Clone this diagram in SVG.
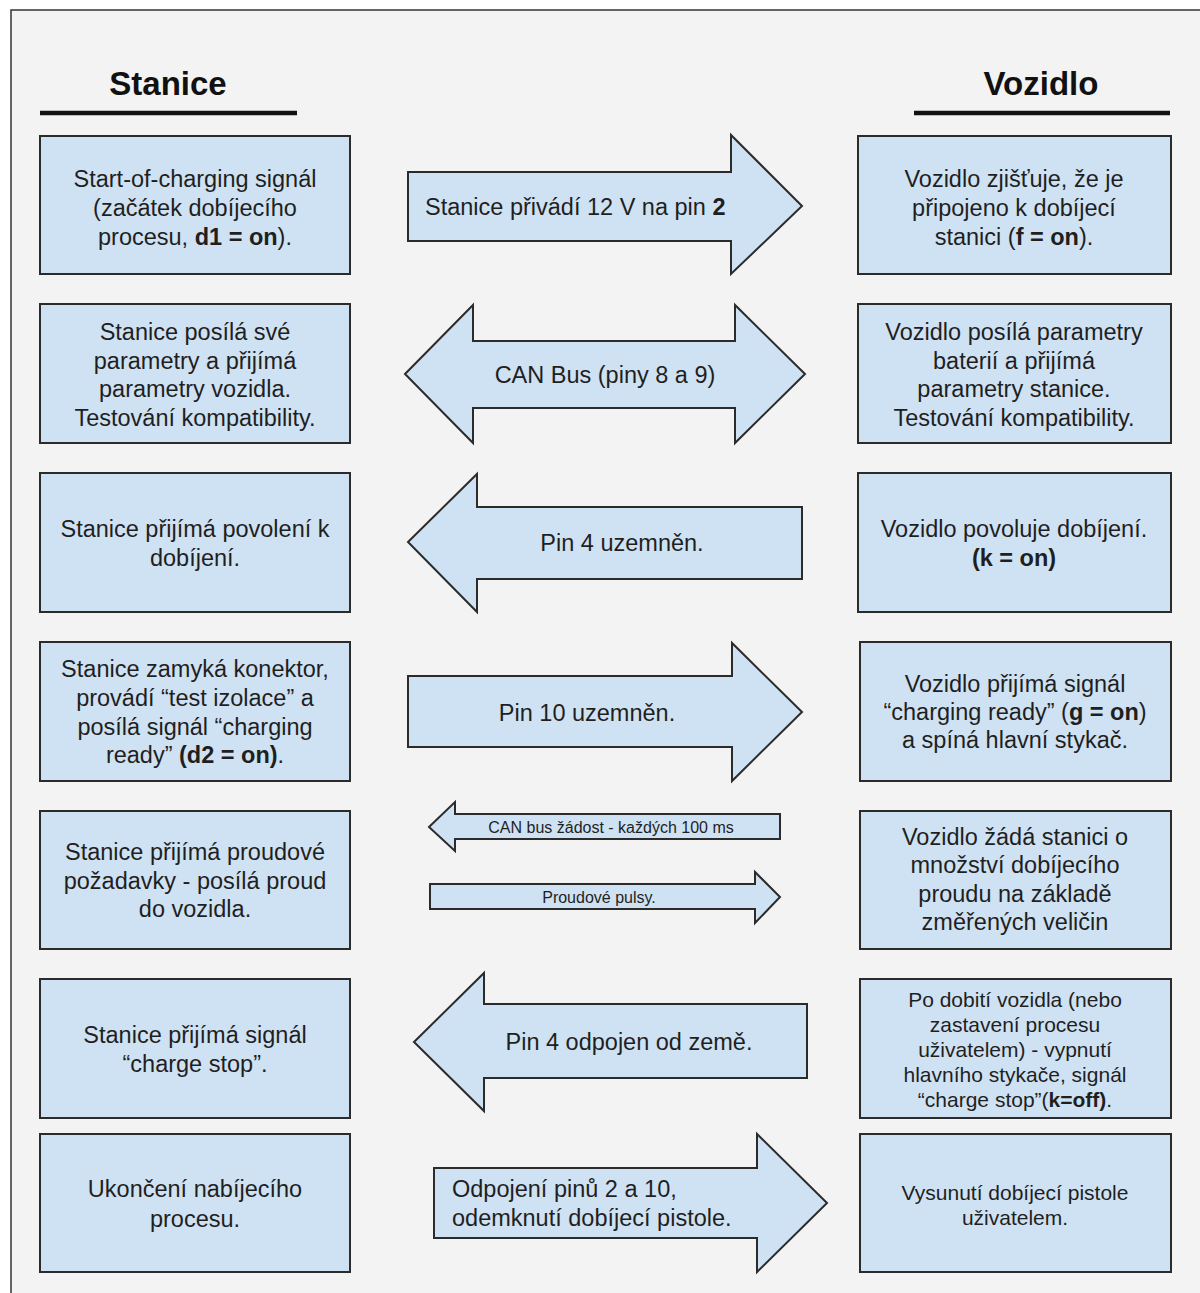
<svg xmlns="http://www.w3.org/2000/svg" width="1200" height="1293" viewBox="0 0 1200 1293">
<style>
.bg{fill:#f3f3f3;stroke:#333;stroke-width:1.5}
.box{fill:#cfe2f3;stroke:#2b2b2b;stroke-width:2}
.arr{fill:#cfe2f3;stroke:#2b2b2b;stroke-width:2;stroke-linejoin:miter}
.t{font-family:"Liberation Sans",Arial,sans-serif;font-size:23.5px;fill:#1f1f1f;text-anchor:middle}
.ts{font-family:"Liberation Sans",Arial,sans-serif;font-size:21px;fill:#1f1f1f;text-anchor:middle}
.tl{font-family:"Liberation Sans",Arial,sans-serif;font-size:23.5px;fill:#1f1f1f;text-anchor:start}
.tsm{font-family:"Liberation Sans",Arial,sans-serif;font-size:16px;fill:#1f1f1f;text-anchor:middle}
.h{font-family:"Liberation Sans",Arial,sans-serif;font-size:33px;font-weight:bold;fill:#111;text-anchor:middle}
.b{font-weight:bold}
.ul{stroke:#111;stroke-width:4.5}
</style>
<rect x="0" y="0" width="1200" height="1293" fill="#ffffff"/>
<rect class="bg" x="11" y="10" width="1200" height="1300"/>

<g id="header-stanice">
<text class="h" x="168" y="95">Stanice</text>
<line class="ul" x1="40" y1="113" x2="297" y2="113"/>
</g>
<g id="header-vozidlo">
<text class="h" x="1041" y="95">Vozidlo</text>
<line class="ul" x1="914" y1="113" x2="1170" y2="113"/>
</g>

<g id="s1">
<rect class="box" x="40" y="136" width="310" height="138"/>
<text class="t" x="195" y="187">Start-of-charging signál</text>
<text class="t" x="195" y="216">(začátek dobíjecího</text>
<text class="t" x="195" y="245">procesu, <tspan class="b">d1 = on</tspan>).</text>
</g>
<g id="v1">
<rect class="box" x="858" y="136" width="313" height="138"/>
<text class="t" x="1014" y="187">Vozidlo zjišťuje, že je</text>
<text class="t" x="1014" y="216">připojeno k dobíjecí</text>
<text class="t" x="1014" y="245">stanici (<tspan class="b">f = on</tspan>).</text>
</g>

<g id="s2">
<rect class="box" x="40" y="304" width="310" height="139"/>
<text class="t" x="195" y="340">Stanice posílá své</text>
<text class="t" x="195" y="368.5">parametry a přijímá</text>
<text class="t" x="195" y="397">parametry vozidla.</text>
<text class="t" x="195" y="425.5">Testování kompatibility.</text>
</g>
<g id="v2">
<rect class="box" x="858" y="304" width="313" height="139"/>
<text class="t" x="1014" y="340">Vozidlo posílá parametry</text>
<text class="t" x="1014" y="368.5">baterií a přijímá</text>
<text class="t" x="1014" y="397">parametry stanice.</text>
<text class="t" x="1014" y="425.5">Testování kompatibility.</text>
</g>

<g id="s3">
<rect class="box" x="40" y="473" width="310" height="139"/>
<text class="t" x="195" y="537">Stanice přijímá povolení k</text>
<text class="t" x="195" y="566">dobíjení.</text>
</g>
<g id="v3">
<rect class="box" x="858" y="473" width="313" height="139"/>
<text class="t" x="1014" y="537">Vozidlo povoluje dobíjení.</text>
<text class="t b" x="1014" y="566">(k = on)</text>
</g>

<g id="s4">
<rect class="box" x="40" y="642" width="310" height="139"/>
<text class="t" x="195" y="677">Stanice zamyká konektor,</text>
<text class="t" x="195" y="706">provádí “test izolace” a</text>
<text class="t" x="195" y="735">posílá signál “charging</text>
<text class="t" x="195" y="763">ready” <tspan class="b">(d2 = on)</tspan>.</text>
</g>
<g id="v4">
<rect class="box" x="860" y="642" width="311" height="139"/>
<text class="t" x="1015" y="692">Vozidlo přijímá signál</text>
<text class="t" x="1015" y="720">“charging ready” (<tspan class="b">g = on</tspan>)</text>
<text class="t" x="1015" y="748">a spíná hlavní stykač.</text>
</g>

<g id="s5">
<rect class="box" x="40" y="811" width="310" height="138"/>
<text class="t" x="195" y="860">Stanice přijímá proudové</text>
<text class="t" x="195" y="889">požadavky - posílá proud</text>
<text class="t" x="195" y="917">do vozidla.</text>
</g>
<g id="v5">
<rect class="box" x="860" y="811" width="311" height="138"/>
<text class="t" x="1015" y="845">Vozidlo žádá stanici o</text>
<text class="t" x="1015" y="873">množství dobíjecího</text>
<text class="t" x="1015" y="902">proudu na základě</text>
<text class="t" x="1015" y="930">změřených veličin</text>
</g>

<g id="s6">
<rect class="box" x="40" y="979" width="310" height="139"/>
<text class="t" x="195" y="1043">Stanice přijímá signál</text>
<text class="t" x="195" y="1072">“charge stop”.</text>
</g>
<g id="v6">
<rect class="box" x="860" y="979" width="311" height="139"/>
<text class="ts" x="1015" y="1007">Po dobití vozidla (nebo</text>
<text class="ts" x="1015" y="1032">zastavení procesu</text>
<text class="ts" x="1015" y="1057">uživatelem) - vypnutí</text>
<text class="ts" x="1015" y="1082">hlavního stykače, signál</text>
<text class="ts" x="1015" y="1107">“charge stop”(<tspan class="b">k=off)</tspan>.</text>
</g>

<g id="s7">
<rect class="box" x="40" y="1134" width="310" height="138"/>
<text class="t" x="195" y="1197">Ukončení nabíjecího</text>
<text class="t" x="195" y="1227">procesu.</text>
</g>
<g id="v7">
<rect class="box" x="860" y="1134" width="311" height="138"/>
<text class="ts" x="1015" y="1200">Vysunutí dobíjecí pistole</text>
<text class="ts" x="1015" y="1225">uživatelem.</text>
</g>

<g id="connectors">
<g id="a1">
<polygon class="arr" points="408,172 731,172 731,135 802,206 731,274 731,241 408,241"/>
<text class="tl" x="425" y="215">Stanice přivádí 12 V na pin <tspan class="b">2</tspan></text>
</g>
<g id="a2">
<polygon class="arr" points="405,374 473,305 473,341 735,341 735,305 805,374 735,443 735,408 473,408 473,443"/>
<text class="t" x="605" y="383">CAN Bus (piny 8 a 9)</text>
</g>
<g id="a3">
<polygon class="arr" points="408,542 477,474 477,507 802,507 802,579 477,579 477,612"/>
<text class="t" x="622" y="551">Pin 4 uzemněn.</text>
</g>
<g id="a4">
<polygon class="arr" points="408,676 732,676 732,643 802,712 732,781 732,747 408,747"/>
<text class="t" x="587" y="721">Pin 10 uzemněn.</text>
</g>
<g id="a5">
<polygon class="arr" points="429,827 455,802 455,814 780,814 780,839 455,839 455,851"/>
<text class="tsm" x="611" y="833">CAN bus žádost - každých 100 ms</text>
</g>
<g id="a6">
<polygon class="arr" points="430,884 755,884 755,872 780,897 755,923 755,909 430,909"/>
<text class="tsm" x="599" y="903">Proudové pulsy.</text>
</g>
<g id="a7">
<polygon class="arr" points="414,1042 484,973 484,1004 807,1004 807,1078 484,1078 484,1111"/>
<text class="t" x="629" y="1050">Pin 4 odpojen od země.</text>
</g>
<g id="a8">
<polygon class="arr" points="434,1168 757,1168 757,1134 827,1203 757,1272 757,1238 434,1238"/>
<text class="tl" x="452" y="1197">Odpojení pinů 2 a 10,</text>
<text class="tl" x="452" y="1226">odemknutí dobíjecí pistole.</text>
</g>
</g>
</svg>
